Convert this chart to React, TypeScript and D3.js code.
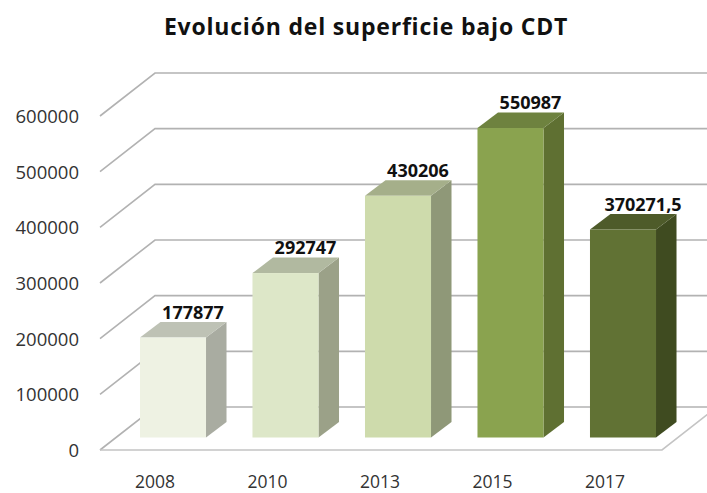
import React from 'react';
import * as d3 from 'd3';

const years = ['2008', '2010', '2013', '2015', '2017'];
const values = [177877, 292747, 430206, 550987, 370271.5];
const valueLabels = ['177877', '292747', '430206', '550987', '370271,5'];
const ticks = [0, 100000, 200000, 300000, 400000, 500000, 600000];

const frontColors = ['#eef2e3', '#dde7c8', '#cedbac', '#8aa34f', '#617234'];
const topColors = ['#bec2b5', '#b1b9a0', '#a5af8a', '#6e823f', '#4e5b2a'];
const sideColors = ['#a9aca1', '#9ba188', '#8f9878', '#5f7032', '#3f4b20'];

const width = 707;
const height = 493;
const font = '"Open Sans", sans-serif';

// fake 3d box: floor goes back by wallDx / wallDy, bars are less deep
const floorLeft = 100;
const floorRight = 662;
const floorY = 450;
const wallDx = 55;
const wallDy = 43;
const barBase = 437.5;
const barDx = 20.5;
const barDy = 15.5;

export default function App() {
  const h = d3.scaleLinear().domain([0, 600000]).range([0, 334]);
  // bars sit nearer the viewer than the back wall, so they scale a bit larger
  const barH = d3.scaleLinear().domain([0, 600000]).range([0, 337]);
  const x = d3.scaleBand<string>()
    .domain(years)
    .range([116.75, 679.25])
    .paddingInner(0.413)
    .paddingOuter(0.2065);

  const poly = (pts: [number, number][]) => d3.line()(pts) + 'Z';

  return (
    <svg width={width} height={height} style={{ position: 'absolute', left: 0, top: 0 }}>
      <text
        x={366}
        y={35}
        textAnchor="middle"
        fontFamily={font}
        fontWeight={700}
        fontSize={23}
        letterSpacing={0.8}
        fill="#111"
      >
        Evolución del superficie bajo CDT
      </text>

      {ticks.map(t => {
        const fy = floorY - h(t);
        const pts: [number, number][] = [
          [floorLeft, fy],
          [floorLeft + wallDx, fy - wallDy],
          [width + 12, fy - wallDy],
        ];
        return (
          <g key={t}>
            <path d={d3.line()(pts)!} fill="none" stroke="#b2b2b2" strokeWidth={1.6} />
            <text x={79} y={fy + 7} textAnchor="end" fontFamily={font} fontSize={18.5} fill="#333">{t}</text>
          </g>
        );
      })}

      {/* floor front and right edge */}
      <path
        d={d3.line()([
          [floorLeft, floorY],
          [floorRight, floorY],
          [floorRight + wallDx, floorY - wallDy],
        ])!}
        fill="none"
        stroke="#c4c4c4"
        strokeWidth={1.6}
      />

      {years.map((year, i) => {
        const x0 = x(year)!;
        const x1 = x0 + x.bandwidth();
        const top = barBase - barH(values[i]);
        return (
          <g key={year}>
            <path
              d={poly([[x1, top], [x1 + barDx, top - barDy], [x1 + barDx, barBase - barDy], [x1, barBase]])}
              fill={sideColors[i]}
            />
            <path
              d={poly([[x0, top], [x0 + barDx, top - barDy], [x1 + barDx, top - barDy], [x1, top]])}
              fill={topColors[i]}
            />
            <rect x={x0} y={top} width={x.bandwidth()} height={barH(values[i])} fill={frontColors[i]} />
            <text
              x={(x0 + x1) / 2 + 20}
              y={top - barDy - 3.5}
              textAnchor="middle"
              fontFamily={font}
              fontWeight={700}
              fontSize={18}
              fill="#111"
            >
              {valueLabels[i]}
            </text>
            <text x={(x0 + x1) / 2 - 18} y={487.5} textAnchor="middle" fontFamily={font} fontSize={17.5} fill="#333">
              {year}
            </text>
          </g>
        );
      })}
    </svg>
  );
}
